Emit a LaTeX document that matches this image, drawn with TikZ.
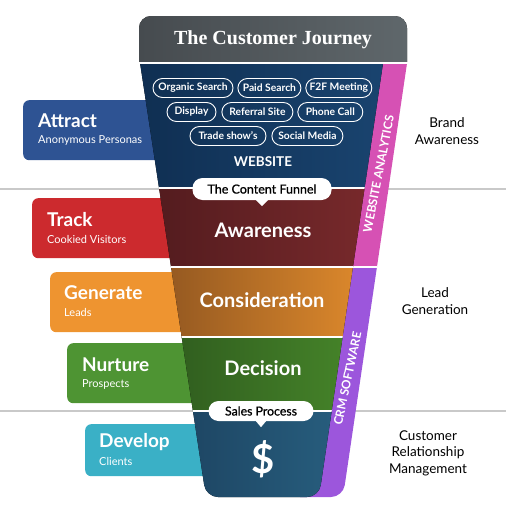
\documentclass[tikz,border=0pt]{standalone}
\usepackage{fontspec}
\setmainfont{Lato}
\newfontfamily\slabfont{Liberation Serif}
\newfontfamily\calloutfont[FakeBold=0.8]{Lato}
\usetikzlibrary{positioning}

\definecolor{attractblue}{HTML}{2E5393}
\definecolor{trackred}{HTML}{CC2A2E}
\definecolor{generateorange}{HTML}{EE9430}
\definecolor{nurturegreen}{HTML}{4E9433}
\definecolor{developteal}{HTML}{3AB0C6}
\definecolor{titleL}{HTML}{464B4F}
\definecolor{titleR}{HTML}{5F676B}
\definecolor{webL}{HTML}{0F2E51}
\definecolor{webR}{HTML}{1A4571}
\definecolor{awareL}{HTML}{4F1A1D}
\definecolor{awareR}{HTML}{7D2B2D}
\definecolor{considerL}{HTML}{87501F}
\definecolor{considerR}{HTML}{EB922E}
\definecolor{decideL}{HTML}{2B541C}
\definecolor{decideR}{HTML}{4B8E2C}
\definecolor{salesL}{HTML}{1A3D5A}
\definecolor{salesR}{HTML}{2B6788}
\definecolor{analytics}{HTML}{D651B4}
\definecolor{crm}{HTML}{9C56DC}
\definecolor{divider}{HTML}{C9C9C9}

\tikzset{
  stagebox/.style={fill=#1, rounded corners=6pt, anchor=north west, inner sep=0pt},
  stagename/.style={anchor=west, inner sep=0pt, text=white, font=\bfseries\fontsize{19}{19}\selectfont},
  stagesub/.style={anchor=west, inner sep=0pt, text=white, font=\fontsize{11}{11}\selectfont},
  source/.style={draw=white, line width=0.9pt, rounded corners=9.5pt, text=white,
    font=\bfseries\fontsize{10.3}{10.3}\selectfont, minimum height=19pt, inner xsep=2pt, inner ysep=0pt},
  bubble/.style={fill=white, rounded corners=10pt, text=black, inner sep=0pt},
  phase/.style={text=white, font=\bfseries\fontsize{20}{20}\selectfont},
  goal/.style={align=center, text=black, font=\fontsize{13.5}{16.5}\selectfont},
  striplabel/.style={text=white, inner sep=0pt, font=\bfseries\fontsize{12}{12}\selectfont},
}

\begin{document}
\begin{tikzpicture}[x=1pt, y=-1pt]
\useasboundingbox (0,0) rectangle (506,514);

% dividers behind the funnel
\draw[divider, line width=1.5pt] (0,189) -- (506,189);
\draw[divider, line width=1.5pt] (0,411) -- (506,411);

% stages on the left
\node[stagebox=attractblue, minimum width=237pt, minimum height=60pt] (attract) at (23,100) {};
\node[stagebox=trackred, minimum width=228pt, minimum height=60pt] (track) at (32,198) {};
\node[stagebox=generateorange, minimum width=210pt, minimum height=60pt] (generate) at (50,272) {};
\node[stagebox=nurturegreen, minimum width=193pt, minimum height=60pt] (nurture) at (67,343) {};
\node[stagebox=developteal, minimum width=175pt, minimum height=52pt] (develop) at (85,424) {};

\node[stagename] (attractT) at (38,121) {Attract};
\node[stagesub] (attractS) at (38,141) {Anonymous Personas};
\node[stagename] (trackT) at (47,220) {Track};
\node[stagesub] (trackS) at (47,239) {Cookied Visitors};
\node[stagename] (generateT) at (64,293) {Generate};
\node[stagesub] (generateS) at (64,312) {Leads};
\node[stagename] (nurtureT) at (82,365) {Nurture};
\node[stagesub] (nurtureS) at (82,384) {Prospects};
\node[stagename] (developT) at (99,442) {Develop};
\node[stagesub] (developS) at (99,461) {Clients};

% the funnel
\begin{scope}
  \clip (0,63) rectangle (506,514);
  \begin{scope}
    \clip[rounded corners=12pt] (137,43) -- (206,497) -- (343,497) -- (410,43) -- cycle;
    \fill[analytics] (300,40) rectangle (420,267);
    \fill[crm] (300,267) rectangle (420,514);
    \draw[white, line width=1.5pt] (300,267) -- (420,267);
  \end{scope}
  \begin{scope}
    \clip[rounded corners=12pt] (137,43) -- (206,497) -- (319,497) -- (386,43) -- cycle;
    \fill[left color=webL, right color=webR] (130,40) rectangle (400,188);
    \fill[left color=awareL, right color=awareR] (130,188) rectangle (400,267);
    \fill[left color=considerL, right color=considerR] (130,267) rectangle (400,337);
    \fill[left color=decideL, right color=decideR] (130,337) rectangle (400,411);
    \fill[left color=salesL, right color=salesR] (130,411) rectangle (400,514);
    \draw[white, line width=1.5pt] (130,188) -- (400,188);
    \draw[white, line width=1.5pt] (130,267) -- (400,267);
    \draw[white, line width=1.5pt] (130,337) -- (400,337);
    \draw[white, line width=1.5pt] (130,411) -- (400,411);
  \end{scope}
\end{scope}

% title
\begin{scope}
  \clip (0,0) rectangle (506,63);
  \fill[left color=titleL, right color=titleR, rounded corners=12pt] (139,16) rectangle (407,80);
\end{scope}
\draw[white, line width=1.5pt] (130,63) -- (420,63);
\node[text=white, font=\slabfont\bfseries\fontsize{20}{20}\selectfont] (journey) at (273,40) {The Customer Journey};

% website sources
\node[source, minimum width=80pt] (organic) at (193,88) {Organic Search};
\node[source, minimum width=63pt, right=4pt of organic] (paid) {Paid Search};
\node[source, minimum width=66pt, right=4pt of paid] (f2f) {F2F Meeting};
\node[source, minimum width=49pt] (display) at (191.5,112) {Display};
\node[source, minimum width=71pt, right=5pt of display] (referral) {Referral Site};
\node[source, minimum width=65pt, right=4pt of referral] (phone) {Phone Call};
\node[source, minimum width=76pt] (trade) at (228,136) {Trade show's};
\node[source, minimum width=71pt, right=5pt of trade] (social) {Social Media};
\node[text=white, font=\bfseries\fontsize{13.5}{13.5}\selectfont] (website) at (263,162) {WEBSITE};

% phases
\node[bubble, minimum width=139pt, minimum height=22pt, font=\calloutfont\fontsize{12.5}{12.5}\selectfont] (contentfunnel) at (262,189) {The Content Funnel};
\fill[white] ([xshift=-6pt]contentfunnel.south) -- ([yshift=-6pt]contentfunnel.south) -- ([xshift=6pt]contentfunnel.south) -- cycle;
\node[phase] (awareness) at (263,230) {Awareness};
\node[phase] (consideration) at (262,300) {Consideration};
\node[phase] (decision) at (263,368) {Decision};
\node[bubble, minimum width=105pt, minimum height=20pt, font=\calloutfont\fontsize{12.3}{12.3}\selectfont] (salesproc) at (261,411) {Sales Process};
\fill[white] ([xshift=-5pt]salesproc.south) -- ([yshift=-6pt]salesproc.south) -- ([xshift=5pt]salesproc.south) -- cycle;
\node[phase, font=\bfseries\fontsize{40}{40}\selectfont] (dollar) at (263,459) {\$};

% strip labels
\node[striplabel, rotate=79] (webanalytics) at (378.5,174) {WEBSITE ANALYTICS};
\node[striplabel, rotate=78] (crmsoftware) at (347.5,378.5) {CRM SOFTWARE};

% goals on the right
\node[goal] (brand) at (447,131) {Brand\\Awareness};
\node[goal] (lead) at (435,301) {Lead\\Generation};
\node[goal] (relation) at (428,453) {Customer\\Relationship\\Management};
\end{tikzpicture}
\end{document}
